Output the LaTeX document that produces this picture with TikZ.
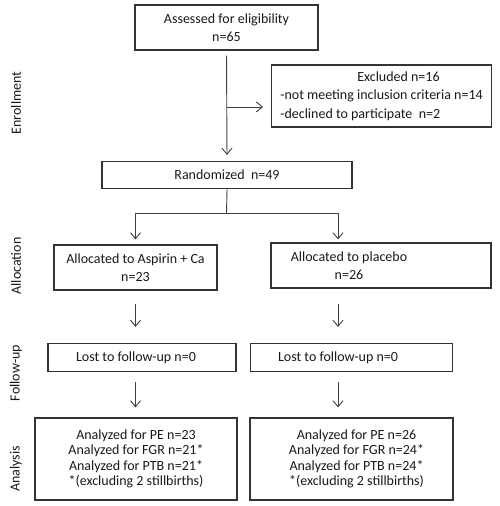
\documentclass[tikz,border=0pt]{standalone}
\usepackage{fontspec}
\setmainfont{Carlito}
\usetikzlibrary{arrows.meta,calc}
\begin{document}
\begin{tikzpicture}[x=1pt,y=-1pt,
  box/.style={draw=black!80,line width=1.2pt,rectangle,inner sep=0pt,align=center,text=black!90,
    font=\fontsize{14}{18.5}\selectfont},
  anbox/.style={box,font=\fontsize{14}{15.5}\selectfont},
  side/.style={rotate=90,font=\fontsize{14}{16}\selectfont,text=black!90},
  conn/.style={draw=black!75,line width=0.9pt},
  arr/.style={conn,-{Straight Barb[length=6pt,width=10pt,line width=0.9pt]}}]
\useasboundingbox (0,0) rectangle (500,506);
% boxes
\node[box,minimum width=183pt,minimum height=45pt] (assess) at (226.5,27.5) {Assessed for eligibility\\n=65};
\node[box,minimum width=220pt,minimum height=62pt,align=left] (excl) at (381.5,96) {\hspace*{77pt}Excluded n=16\\-not meeting inclusion criteria n=14\\-declined to participate\ \ n=2};
\node[box,minimum width=250pt,minimum height=27pt] (rand) at (227,175) {Randomized\ \ n=49};
\node[box,minimum width=163pt,minimum height=45pt] (asp) at (135.5,267.5) {Allocated to Aspirin + Ca\\n=23};
\node[box,minimum width=220pt,minimum height=45pt] (plac) at (381,265.5) {Allocated to placebo\hspace*{64pt}\\n=26\hspace*{64pt}};
\node[box,minimum width=188pt,minimum height=28pt] (lostL) at (142,357.5) {Lost to follow-up n=0\hspace*{12pt}};
\node[box,minimum width=202pt,minimum height=28pt] (lostR) at (351.5,357.5) {Lost to follow-up n=0\hspace*{27pt}};
\node[anbox,minimum width=202pt,minimum height=82pt] (anL) at (136,459) {Analyzed for PE n=23\\Analyzed for FGR n=21*\\Analyzed for PTB n=21*\\*(excluding 2 stillbirths)};
\node[anbox,minimum width=203pt,minimum height=82pt] (anR) at (351.5,459) {\hspace*{10pt}Analyzed for PE n=26\\\hspace*{10pt}Analyzed for FGR n=24*\\\hspace*{10pt}Analyzed for PTB n=24*\\\hspace*{10pt}*(excluding 2 stillbirths)};
% side labels
\node[side] (l1) at (16,103) {Enrollment};
\node[side] (l2) at (16,266) {Allocation};
\node[side] (l3) at (16,373) {Follow-up};
\node[side] (l4) at (16,469) {Analysis};
% connectors
\coordinate (br) at (226.5,107);
\coordinate (brend) at (263,107);
\coordinate (split) at (226.5,213);
\coordinate (px) at (338,213);
\coordinate (lx) at (135.5,213);
\draw[arr,shorten <=5pt,shorten >=6pt] (assess.south) -- (rand.north);
\draw[arr] (br) -- (brend);
\draw[conn] (rand.south) -- (split);
\draw[conn] (lx) -- (px);
\draw[arr,shorten >=5pt] (lx) -- (lx |- asp.north);
\draw[arr,shorten >=3pt] (px) -- (px |- plac.north);
\draw[arr,shorten <=13pt,shorten >=16pt] (lx |- asp.south) -- (lx |- lostL.north);
\draw[arr,shorten <=15pt,shorten >=16pt] (px |- plac.south) -- (px |- lostR.north);
\draw[arr,shorten <=10pt,shorten >=10pt] (lx |- lostL.south) -- (lx |- anL.north);
\draw[arr,shorten <=10pt,shorten >=10pt] (px |- lostR.south) -- (px |- anR.north);
\end{tikzpicture}
\end{document}
